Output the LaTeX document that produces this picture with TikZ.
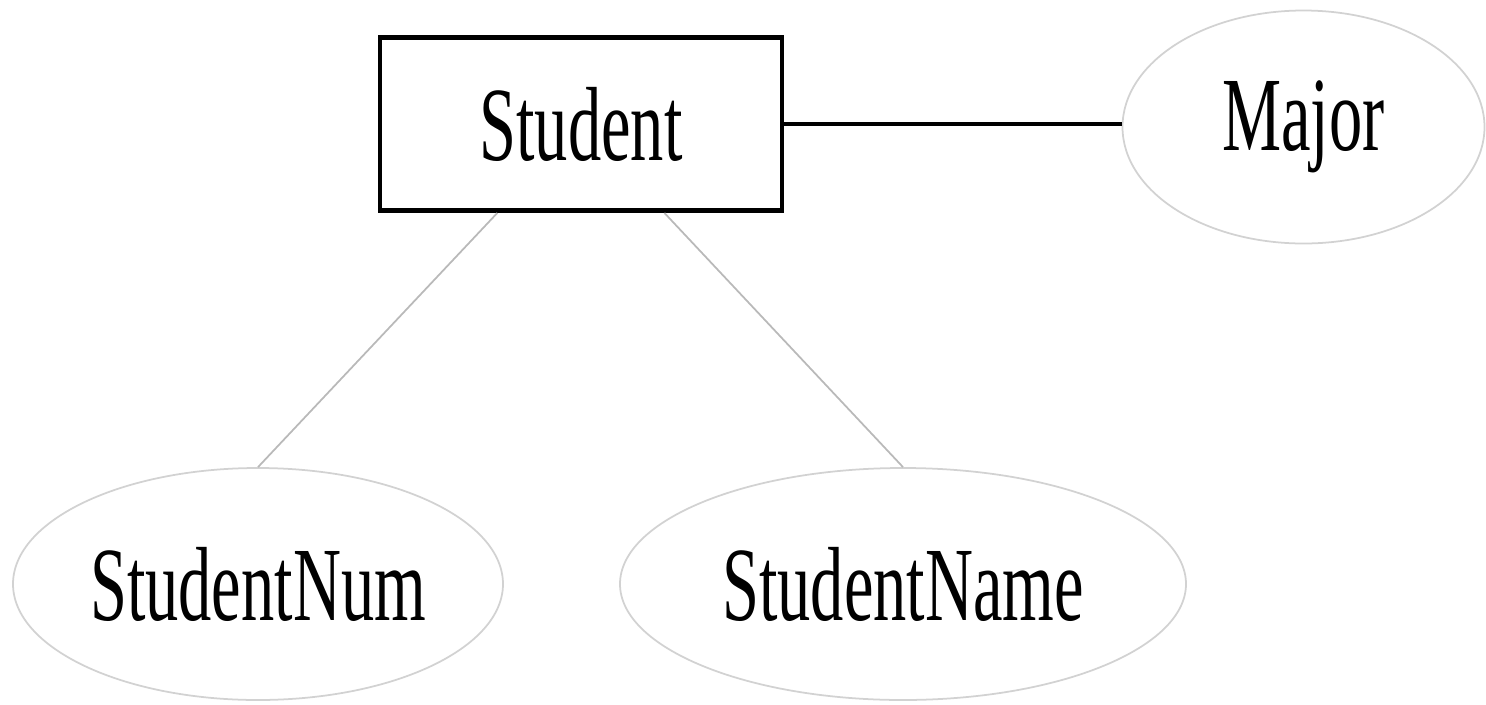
\documentclass[tikz,border=0pt]{standalone}
\usepackage{fontspec}
\setmainfont{Liberation Serif}[FakeStretch=0.63]
\usetikzlibrary{shapes.geometric}
\tikzset{
  entity/.style={draw=black, line width=1.4pt, rectangle, inner sep=0pt,
    minimum width=4.02cm, minimum height=1.73cm, font=\fontsize{30}{36}\selectfont},
  attr/.style={draw=gray!35, line width=0.5pt, ellipse, inner sep=0pt,
    minimum height=2.32cm, font=\fontsize{30}{36}\selectfont},
  strong/.style={draw=black, line width=1.2pt},
  weak/.style={draw=gray!55, line width=0.5pt}
}
\begin{document}
\begin{tikzpicture}
  \useasboundingbox (0,0) rectangle (14.86,-7.04);
  \node[entity] (student) at (5.81,-1.24) {Student};
  \node[attr, minimum width=3.62cm, minimum height=2.33cm] (major) at (13.035,-1.27) {Major};
  \node[attr, minimum width=4.90cm] (num) at (2.58,-5.84) {StudentNum};
  \node[attr, minimum width=5.66cm] (name) at (9.03,-5.84) {StudentName};
  \draw[strong] (student.east) -- (student.east -| major.west);
  \draw[weak] (student) -- (num.north);
  \draw[weak] (student) -- (name.north);
\end{tikzpicture}
\end{document}
